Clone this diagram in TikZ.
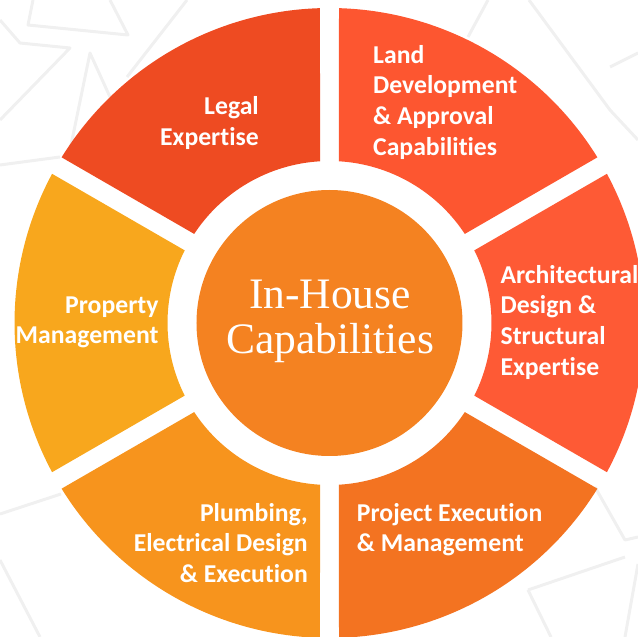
\documentclass[tikz,border=0pt]{standalone}
\usepackage{fontspec}
\setmainfont{Liberation Serif}
\newfontfamily\labelfont[Ligatures=NoCommon]{Carlito}
\definecolor{legalc}{HTML}{EE4B22}
\definecolor{landc}{HTML}{FD5630}
\definecolor{archc}{HTML}{FE5A35}
\definecolor{projc}{HTML}{F37321}
\definecolor{plumbc}{HTML}{F7941D}
\definecolor{propc}{HTML}{F8A71D}
\definecolor{hubc}{HTML}{F48221}
\definecolor{patc}{HTML}{F0F0F0}
\begin{document}
\begin{tikzpicture}
  [x=1pt,y=1pt,every node/.style={inner sep=0pt,text=white},
   seg/.style={font=\labelfont\bfseries\fontsize{25.7}{30.7}\selectfont},
   hubfont/.style={font=\fontsize{43.5}{45.4}\selectfont}]
  \useasboundingbox (-329.5,-314) rectangle (308.5,323);

  % background pattern
  \begin{scope}[shift={(-329.5,323)},yscale=-1,draw=patc,line width=3,line join=round]
    \draw (33,0) -- (28,25) -- (128,35) -- (110,0);
    \draw (0,20) -- (20,43) -- (70,48) -- (0,120);
    \draw (70,150) -- (90,53) -- (110,97);
    \draw (127,77) -- (187,0);
    \draw (0,165) -- (60,157);
    \draw (488,0) -- (468,37);
    \draw (529,0) -- (610,110) -- (638,140);
    \draw (610,67) -- (638,53);
    \draw (595,487) -- (625,540) -- (638,537);
    \draw (528,590) -- (625,557);
    \draw (528,590) -- (551,637);
    \draw (638,564) -- (625,637);
    \draw (0,514) -- (61,494);
    \draw (0,560) -- (40,637);
  \end{scope}

  % ring
  \foreach \a/\col in {30/landc,90/legalc,150/propc,210/plumbc,270/projc,330/archc}
    \fill[\col] (\a+1.73:315) arc[start angle=\a+1.73,end angle=\a+58.27,radius=315]
      -- (\a+56.64:162) arc[start angle=\a+56.64,end angle=\a+3.36,radius=162] -- cycle;

  \node[circle,fill=hubc,minimum size=266pt] (hub) at (0,0) {};
  \node[hubfont,align=center,anchor=base] (hubtext) at (0.5,-30.7) {In-House\\Capabilities};

  % labels, placed by the baseline of their last line
  \node[seg,align=right,anchor=base east] (legal) at (-70.5,177.3) {Legal\\Expertise};
  \node[seg,align=left,anchor=base west] (land) at (43.5,167.6) {Land\\Development\\\& Approval\\Capabilities};
  \node[seg,align=left,anchor=base west] (arch) at (170.9,-52.4) {Architectural\\Design \&\\Structural\\Expertise};
  \node[seg,align=right,anchor=base east] (prop) at (-170.8,-21) {Property\\Management};
  \node[seg,align=right,anchor=base east] (plumb) at (-21.5,-259.4) {Plumbing,\\Electrical Design\\\& Execution};
  \node[seg,align=left,anchor=base west] (proj) at (27.3,-228.7) {Project Execution\\\& Management};

\end{tikzpicture}
\end{document}
